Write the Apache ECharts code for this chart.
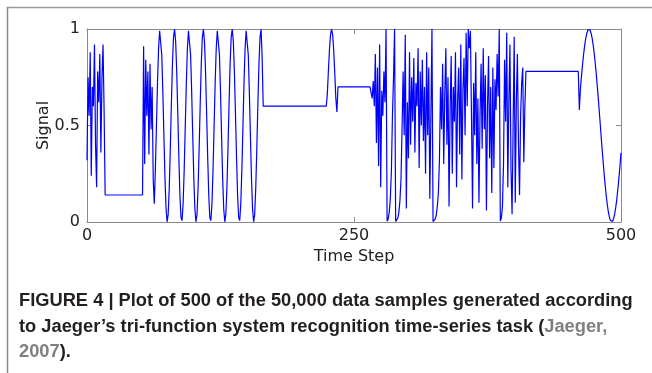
<!DOCTYPE html>
<html>
<head>
<meta charset="utf-8">
<script src="https://cdn.jsdelivr.net/npm/echarts@6/dist/echarts.min.js"></script>
<style>
html,body{margin:0;padding:0;background:#fff;}
#chart{width:652px;height:373px;}
</style>
</head>
<body>
<div id="chart"></div>
<script>
// ---- data ----
const xTicks = [0, 250, 500];
const yTicks = [0, 0.5, 1];

// chaotic burst, steps 0..16
const chaosA = [0.32,0.75,0.55,0.88,0.24,0.70,0.60,0.92,0.40,0.18,0.78,0.62,0.87,0.36,0.74,0.92,0.58];
const chaosAStart = 0;

// flat plateaus: [firstStep, lastStep] and level
const plateauSteps = [[17,52],[165,224],[235,265],[411,460]];
const plateauValues = [0.14, 0.60, 0.70, 0.78];

// chaotic burst, steps 53..62
const chaosB = [0.91,0.30,0.84,0.55,0.78,0.35,0.82,0.48,0.70,0.22];
const chaosBStart = 53;

// fast oscillation, steps 63..164
const sineA = [
 0.095,0.27,0.494,0.719,0.898,0.991,0.981,0.867,0.676,0.448,0.23,0.07,0.001,0.039,0.174,0.379,0.61,0.817,0.957,0.999,0.936,0.78,0.564,0.335,0.14,0.023,0.007,
 0.095,0.27,0.494,0.719,0.898,0.991,0.981,0.867,0.676,0.448,0.23,0.07,0.001,0.039,0.174,0.379,0.61,0.817,0.957,0.999,0.936,0.78,0.564,0.335,0.14,0.023,0.007,
 0.095,0.27,0.494,0.719,0.898,0.991,0.981,0.867,0.676,0.448,0.23,0.07,0.001,0.039,0.174,0.379,0.61,0.817,0.957,0.999,0.936,0.78,0.564,0.335,0.14,0.023,0.007,
 0.095,0.27,0.494,0.719,0.898,0.991,0.981,0.867,0.676,0.448,0.23,0.07,0.001,0.039,0.174,0.379,0.61,0.817,0.957,0.999,
 0.85
];
const sineAStart = 63;

// single bump, steps 225..234
const bump = [0.66,0.78,0.89,0.97,1.0,0.97,0.89,0.77,0.64,0.57];
const bumpStart = 225;

// long chaotic stretch, steps 266..410
const chaosC = [
 0.70,0.64,0.73,0.60,0.87,0.41,0.80,0.29,0.92,0.18,
 0.68,0.55,0.78,0.62,1.00,0.004,0.016,0.05,0.12,0.26,
 0.55,0.75,1.00,0.003,0.008,0.02,0.05,0.11,0.22,0.48,
 0.78,0.45,0.97,0.07,0.62,0.33,0.88,0.40,0.75,0.52,
 0.85,0.36,0.72,0.60,0.90,0.28,0.78,0.50,0.84,0.42,
 0.70,0.25,0.88,0.45,0.80,0.12,0.55,1.00,0.002,0.006,
 0.015,0.035,0.08,0.15,0.32,0.70,0.48,0.82,0.30,0.66,
 0.90,0.40,0.75,0.08,0.58,0.86,0.25,0.70,0.52,0.88,
 0.18,0.63,0.80,0.35,0.92,0.22,0.68,0.85,0.45,0.98,
 0.60,1.00,0.90,0.99,0.55,0.07,0.72,0.45,0.88,0.30,
 0.64,0.10,0.55,0.82,0.38,0.90,0.48,0.76,0.06,0.60,
 0.86,0.33,0.70,0.15,0.80,0.28,0.74,0.58,0.87,0.65,
 1.00,0.005,0.02,0.08,0.30,0.84,0.52,0.98,0.18,0.62,
 0.92,0.28,0.04,0.50,0.96,0.10,0.62,0.87,0.40,0.14,
 0.55,0.72,0.80,0.31,0.60
];
const chaosCStart = 266;

// slow oscillation, steps 461..500
const sineB = [
 0.58,0.69,0.756,0.816,0.87,0.915,0.952,0.978,0.995,1.0,
 0.995,0.978,0.952,0.915,0.87,0.816,0.756,0.69,0.621,0.548,
 0.474,0.401,0.33,0.263,0.201,0.145,0.097,0.058,0.029,0.009,
 0.001,0.003,0.016,0.039,0.073,0.115,0.167,0.225,0.289,0.358
];
const sineBStart = 461;

// ---- assemble points ----
const runs = [
  [chaosAStart, chaosA], [chaosBStart, chaosB], [sineAStart, sineA],
  [bumpStart, bump], [chaosCStart, chaosC], [sineBStart, sineB]
];
let pts = [];
runs.forEach(([s, vals]) => vals.forEach((v, i) => pts.push([s + i, v])));
plateauSteps.forEach(([a, b], k) => { pts.push([a, plateauValues[k]]); pts.push([b, plateauValues[k]]); });
pts.sort((p, q) => p[0] - q[0]);

const axisGray = '#8a8a8a';
const labelFont = {fontFamily: 'DejaVu Sans', fontSize: 16, color: '#222'};
const capFont = {fontFamily: 'Liberation Sans', fontSize: 18.3, fontWeight: 'bold'};

function boxAxis(extra) {
  return Object.assign({
    type: 'value',
    nameMoveOverlap: false,
    axisLine: {show: true, onZero: false, lineStyle: {color: axisGray, width: 1}},
    axisTick: {show: true, inside: true, length: 5, lineStyle: {color: axisGray}},
    splitLine: {show: false}
  }, extra);
}

const chart = echarts.init(document.getElementById('chart'));
chart.setOption({
  animation: false,
  backgroundColor: '#fff',
  grid: {left: 87, right: 31, top: 29, bottom: 151, containLabel: false},
  xAxis: [
    boxAxis({min: xTicks[0], max: xTicks[2], interval: xTicks[1] - xTicks[0], position: 'bottom',
      name: 'Time Step', nameLocation: 'middle', nameGap: 27, nameTextStyle: labelFont,
      axisLabel: Object.assign({margin: 6}, labelFont)}),
    boxAxis({min: xTicks[0], max: xTicks[2], interval: xTicks[1] - xTicks[0], position: 'top',
      axisLabel: {show: false}})
  ],
  yAxis: [
    boxAxis({min: yTicks[0], max: yTicks[2], interval: yTicks[1] - yTicks[0], position: 'left',
      name: 'Signal', nameLocation: 'middle', nameGap: 35, nameRotate: 90, nameTextStyle: labelFont,
      axisLabel: Object.assign({margin: 7}, labelFont)}),
    boxAxis({min: yTicks[0], max: yTicks[2], interval: yTicks[1] - yTicks[0], position: 'right',
      axisLabel: {show: false}})
  ],
  series: [{
    type: 'line', data: pts, xAxisIndex: 0, yAxisIndex: 0,
    showSymbol: false, symbol: 'none',
    lineStyle: {color: '#0000ff', width: 1.2},
    z: 3
  }],
  graphic: [
    {type: 'line', shape: {x1: 7, y1: 7.5, x2: 652, y2: 7.5}, style: {stroke: '#999', lineWidth: 1.5}, silent: true},
    {type: 'line', shape: {x1: 7.5, y1: 7, x2: 7.5, y2: 373}, style: {stroke: '#888', lineWidth: 1.5}, silent: true},
    {type: 'text', left: 19, top: 292, silent: true,
     style: Object.assign({text: 'FIGURE 4 | Plot of 500 of the 50,000 data samples generated according', fill: '#231f20'}, capFont)},
    {type: 'text', left: 19, top: 318, silent: true,
     style: Object.assign({
       text: 'to Jaeger\u2019s tri-function system recognition time-series task ({g|Jaeger,}',
       fill: '#231f20',
       rich: {g: Object.assign({fill: '#808080'}, capFont)}
     }, capFont)},
    {type: 'text', left: 19, top: 343, silent: true,
     style: Object.assign({
       text: '{g|2007}).',
       fill: '#231f20',
       rich: {g: Object.assign({fill: '#808080'}, capFont)}
     }, capFont)}
  ]
});
</script>
</body>
</html>
